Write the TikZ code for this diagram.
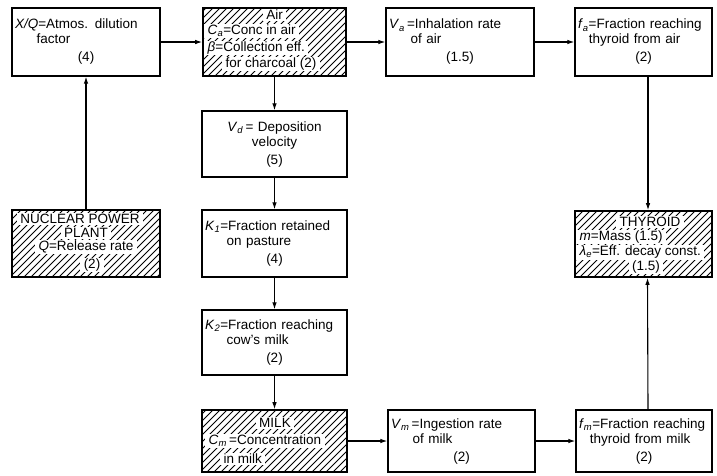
\documentclass[tikz,border=0pt]{standalone}
\usepackage{fontspec}
\setmainfont{Liberation Sans}
\usetikzlibrary{arrows.meta}

% helpers for the box texts
\newcommand\ctr[1]{\makebox[\linewidth]{#1}}
\newcommand\ind{\hspace*{1.6em}}
\newcommand\var[2]{\textit{#1}\textsubscript{\textit{#2}}}
% diagonal hatching inside a named box
\newcommand\hatchbox[1]{%
  \begin{scope}
    \clip (#1.south west) rectangle (#1.north east);
    \foreach \d in {-72,-65,...,150}
      \draw[line width=0.9pt] ([xshift=\d pt]#1.south west) -- ++(80,-80);
  \end{scope}}

\begin{document}
\begin{tikzpicture}[x=1pt,y=-1pt,
    plain/.style={draw, line width=1.2pt, inner xsep=3pt, inner ysep=2pt,
      align=left, font=\fontsize{13.5}{15}\selectfont},
    hatched/.style={draw, line width=1.6pt},
    hl/.style={fill=white, inner xsep=3.5pt, inner ysep=1.2pt,
      font=\fontsize{13.5}{15}\selectfont},
    arr/.style={-{Latex[length=7pt,width=4.5pt]}, line width=1.1pt}]
  \useasboundingbox (0,0) rectangle (717,475);

  % Top row
  \node[plain, text width=142pt, minimum height=68pt] (xq) at (86,42)
    {\textit{X/Q}=Atmos. dilution\\ \ind factor\\[3pt] \ctr{(4)}};
  \node[hatched, minimum width=143pt, minimum height=68pt] (air) at (274.5,42) {};
  \hatchbox{air}
  \node[hl] (air1) at (274.5,15) {Air};
  \node[hl, anchor=west] (air2) at (204,31) {\var{C}{a}=Conc in air};
  \node[hl, anchor=west] (air3) at (204,48) {\textit{β}=Collection eff.};
  \node[hl, anchor=west] (air4) at (222,64) {for charcoal (2)};
  \node[plain, text width=142pt, minimum height=68pt] (va) at (460,42)
    {\var{V}{a}\,=Inhalation rate\\ \ind of air\\[3pt] \ctr{(1.5)}};
  \node[plain, text width=131pt, minimum height=68pt] (fa) at (643.5,42)
    {\var{f}{a}=Fraction reaching\\ \hspace*{0.8em}thyroid from air\\[3pt] \ctr{(2)}};

  % Middle column
  \node[plain, text width=139pt, minimum height=66pt] (vd) at (274.5,144)
    {\ctr{\var{V}{d}\,= Deposition}\\ \ctr{velocity}\\[3pt] \ctr{(5)}};
  \node[plain, text width=139pt, minimum height=67pt] (k1) at (274.5,243.5)
    {\var{K}{1}=Fraction retained\\ \ind on pasture\\[3pt] \ctr{(4)}};
  \node[plain, text width=139pt, minimum height=65pt] (k2) at (274.5,342.5)
    {\var{K}{2}=Fraction reaching\\ \ind cow's milk\\[3pt] \ctr{(2)}};

  % Sides
  \node[hatched, minimum width=148pt, minimum height=67pt] (npp) at (86,243.5) {};
  \hatchbox{npp}
  \node[hl] (npp1) at (80,219) {NUCLEAR POWER};
  \node[hl] (npp2) at (86,233) {PLANT};
  \node[hl] (npp3) at (86,247) {\textit{Q}=Release rate};
  \node[hl] (npp4) at (92,265) {(2)};
  \node[hatched, minimum width=137pt, minimum height=66pt] (thy) at (643.5,244) {};
  \hatchbox{thy}
  \node[hl] (thy1) at (650,222) {THYROID};
  \node[hl, anchor=west] (thy2) at (576,237) {\textit{m}=Mass (1.5)};
  \node[hl, anchor=west] (thy3) at (576,252) {\var{λ}{e}=Eff. decay const.};
  \node[hl] (thy4) at (646,267) {(1.5)};

  % Bottom row
  \node[hatched, minimum width=145pt, minimum height=62pt] (milk) at (274.5,441) {};
  \hatchbox{milk}
  \node[hl] (milk1) at (275,423) {MILK};
  \node[hl, anchor=west] (milk2) at (205,441) {\var{C}{m}\,=Concentration};
  \node[hl, anchor=west] (milk3) at (220,459) {in milk};
  \node[plain, text width=141pt, minimum height=62pt] (vm) at (461.5,441)
    {\var{V}{m}\,=Ingestion rate\\ \ind of milk\\[3pt] \ctr{(2)}};
  \node[plain, text width=130pt, minimum height=62pt] (fm) at (644,441)
    {\var{f}{m}=Fraction reaching\\ \hspace*{0.8em}thyroid from milk\\[3pt] \ctr{(2)}};

  % Connectors
  \draw[arr] (npp) -- (xq);
  \draw[arr] (xq) -- (air);
  \draw[arr] (air) -- (va);
  \draw[arr] (va) -- (fa);
  \draw[arr] (air) -- (vd);
  \draw[arr] (vd) -- (k1);
  \draw[arr] (k1) -- (k2);
  \draw[arr] (k2) -- (milk);
  \draw[arr] (milk) -- (vm);
  \draw[arr] (vm) -- (fm);
  \draw[arr] ([xshift=4.5pt]fa.south) -- ([xshift=4.5pt]thy.north);
  \draw[arr] ([xshift=4pt]fm.north) -- ([xshift=4pt]thy.south);
\end{tikzpicture}
\end{document}
